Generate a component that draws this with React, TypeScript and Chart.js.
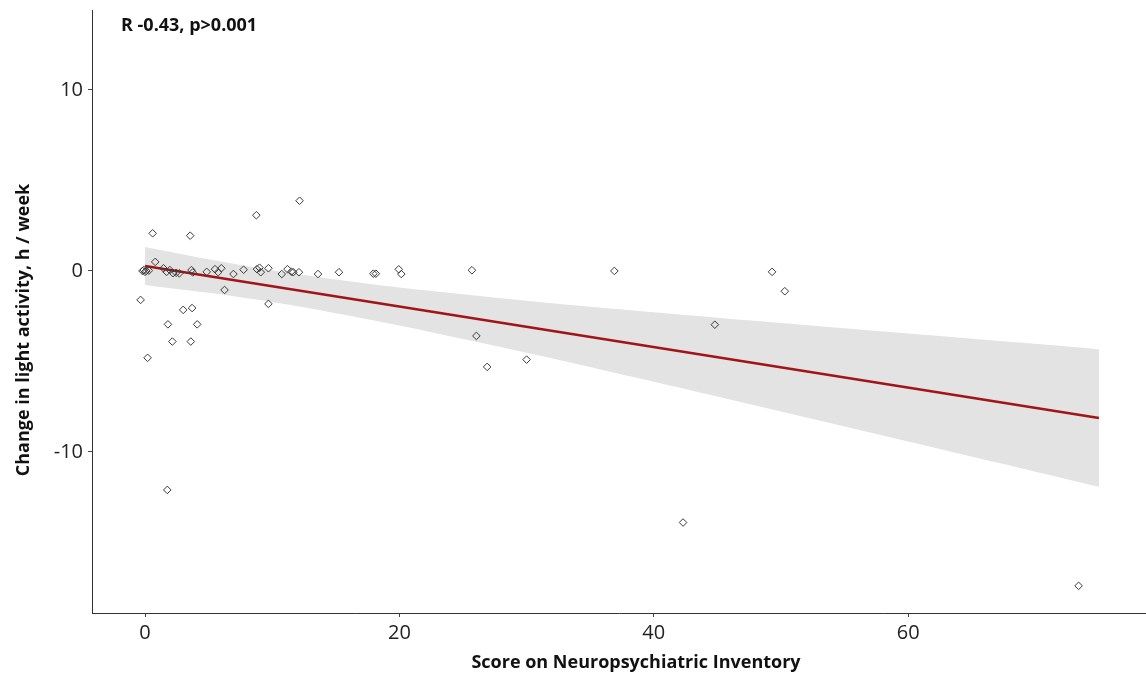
import React, { useEffect, useRef } from "react";
import { Chart, registerables } from "chart.js";

Chart.register(...registerables);

// Scatter data: NPI score (x) vs change in light activity (y)
const npiScore = [
  -0.35, -0.2, -0.1, 0.0, 0.1, 0.3, 0.2, 0.6, 0.8, 1.45, 1.7, 1.8, 1.75, 1.95, 2.15, 2.2, 2.45, 2.7,
  3.0, 3.55, 3.6, 3.65, 3.75, 3.7, 4.1, 4.85, 5.5, 5.75, 6.0, 6.25, 6.95, 7.75, 8.75, 8.8, 9.0, 9.1,
  9.7, 9.7, 10.75, 11.2, 11.5, 11.65, 12.1, 12.15, 13.6, 15.25, 17.95, 18.15, 19.95, 20.15, 25.7,
  26.05, 26.9, 30.0, 36.9, 42.3, 44.8, 49.3, 50.3, 73.4,
];
const lightChange = [
  -1.6, 0.0, 0.05, -0.05, 0.0, 0.02, -4.8, 2.08, 0.5, 0.15, -0.05, -2.95, -12.1, 0.05, -3.9, -0.12, -0.1, -0.13,
  -2.15, 1.95, -3.9, 0.05, -0.08, -2.05, -2.95, -0.05, 0.1, -0.07, 0.15, -1.05, -0.17, 0.07, 3.08, 0.1, 0.18, -0.07,
  0.15, -1.82, -0.17, 0.1, -0.04, -0.07, -0.07, 3.88, -0.17, -0.07, -0.15, -0.15, 0.09, -0.17, 0.04,
  -3.59, -5.3, -4.9, 0.0, -13.9, -2.97, -0.05, -1.12, -17.4,
];

// Regression line endpoints
const fitX = [0, 75];
const fitY = [0.28, -8.12];

// Confidence band
const bandX = [0, 5, 10, 15, 20, 30, 40, 50, 60, 75];
const bandUpper = [1.33, 0.65, 0.04, -0.47, -0.91, -1.64, -2.28, -2.88, -3.46, -4.32];
const bandLower = [-0.77, -1.21, -1.72, -2.33, -3.01, -4.52, -6.12, -7.76, -9.42, -11.92];

const xTicks = [0, 20, 40, 60];
const yTicks = [-10, 0, 10];

const annotation = "R -0.43, p>0.001";
const xTitle = "Score on Neuropsychiatric Inventory";
const yTitle = "Change in light activity, h / week";

const FONT = "'Open Sans', 'Noto Sans', sans-serif";

export default function App() {
  const ref = useRef<HTMLCanvasElement | null>(null);

  useEffect(() => {
    if (!ref.current) return;
    const textPlugin = {
      id: "texts",
      afterDraw(chart: any) {
        const ctx = chart.ctx;
        ctx.save();
        ctx.fillStyle = "#111";
        ctx.font = `bold 18px ${FONT}`;
        ctx.textAlign = "left";
        ctx.textBaseline = "alphabetic";
        ctx.fillText(annotation, 121, 31);
        ctx.textAlign = "center";
        ctx.fillText(xTitle, 636, 668);
        ctx.translate(29, 330);
        ctx.rotate(-Math.PI / 2);
        ctx.fillText(yTitle, 0, 0);
        ctx.restore();
      },
    };

    const noPad = (s: any) => {
      s.paddingTop = 0;
      s.paddingBottom = 0;
      s.paddingLeft = 0;
      s.paddingRight = 0;
    };

    const chart = new Chart(ref.current, {
      type: "scatter",
      data: {
        datasets: [
          {
            type: "scatter",
            data: npiScore.map((x, i) => ({ x, y: lightChange[i] })),
            pointStyle: "rectRot",
            pointRadius: 3.8,
            pointBorderWidth: 1,
            borderColor: "#3a3a3a",
            backgroundColor: "rgba(255,255,255,0)",
          } as any,
          {
            type: "line",
            data: fitX.map((x, i) => ({ x, y: fitY[i] })),
            borderColor: "#a0141a",
            borderWidth: 2.5,
            pointRadius: 0,
            fill: false,
          } as any,
          {
            type: "line",
            data: bandX.map((x, i) => ({ x, y: bandUpper[i] })),
            borderWidth: 0,
            borderColor: "rgba(0,0,0,0)",
            pointRadius: 0,
            tension: 0.3,
            fill: "+1",
            backgroundColor: "#e3e3e3",
          } as any,
          {
            type: "line",
            data: bandX.map((x, i) => ({ x, y: bandLower[i] })),
            borderWidth: 0,
            borderColor: "rgba(0,0,0,0)",
            pointRadius: 0,
            tension: 0.3,
            fill: false,
          } as any,
        ],
      },
      options: {
        responsive: false,
        animation: false,
        layout: { autoPadding: false, padding: { top: 10, left: 0, right: 0, bottom: 0 } },
        plugins: {
          legend: { display: false },
          tooltip: { enabled: false },
        },
        scales: {
          x: {
            type: "linear",
            position: "bottom",
            min: -4.17,
            max: 78.7,
            afterBuildTicks: (s: any) => {
              s.ticks = xTicks.map((v) => ({ value: v }));
            },
            afterFit: (s: any) => {
              s.height = 62;
              noPad(s);
            },
            grid: { drawOnChartArea: false, drawTicks: true, tickLength: 4, color: "#444" },
            border: { display: true, color: "#333", width: 1 },
            ticks: { font: { family: FONT, size: 20 }, color: "#222", padding: 4 },
          },
          y: {
            type: "linear",
            min: -18.9,
            max: 14.42,
            afterBuildTicks: (s: any) => {
              s.ticks = yTicks.map((v) => ({ value: v }));
            },
            afterFit: (s: any) => {
              s.width = 92;
              noPad(s);
            },
            grid: { drawOnChartArea: false, drawTicks: true, tickLength: 4, color: "#444" },
            border: { display: true, color: "#333", width: 1 },
            ticks: { font: { family: FONT, size: 20 }, color: "#222", padding: 5 },
          },
        },
      } as any,
      plugins: [textPlugin],
    });
    return () => chart.destroy();
  }, []);

  return (
    <div style={{ position: "absolute", left: 0, top: 0, width: 1146, height: 675, background: "#fff" }}>
      <canvas ref={ref} width={1146} height={675} style={{ display: "block" }} />
    </div>
  );
}
